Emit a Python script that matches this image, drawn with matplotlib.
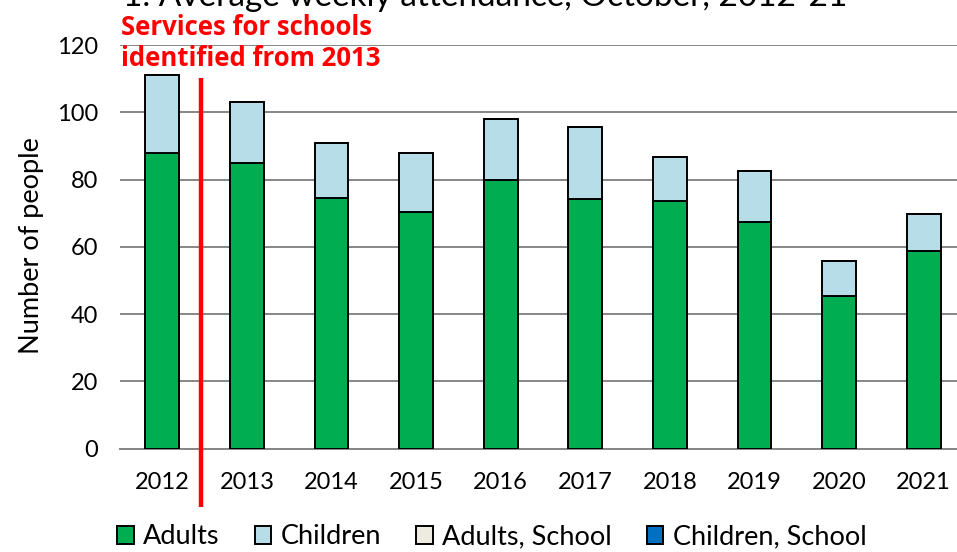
import numpy as np
import matplotlib
matplotlib.use("Agg")
from matplotlib import pyplot as plt

# values
years = ["2012", "2013", "2014", "2015", "2016", "2017", "2018", "2019", "2020", "2021"]
adults = [87.8, 84.8, 74.6, 70.4, 79.9, 74.3, 73.6, 67.5, 45.3, 58.8]
children = [23.2, 18.3, 16.3, 17.6, 18.2, 21.4, 13.2, 15.1, 10.5, 10.9]
adults_school = [0, 0, 0, 0, 0, 0, 0, 0, 0, 0]
children_school = [0, 0, 0, 0, 0, 0, 0, 0, 0, 0]

series_names = ["Adults", "Children", "Adults, School", "Children, School"]
series_colors = ["#00AD50", "#B7DDE8", "#EEECE1", "#0070C0"]

title = "1. Average weekly attendance, October, 2012-21"
note = "Services for schools\nidentified from 2013"

plt.rcParams['font.family'] = ['Lato', 'DejaVu Sans']

W, H = 957, 552
fig = plt.figure(figsize=(W / 100, H / 100), dpi=100)
# axes box in pixels: left 120, right 966 (runs off the edge), y=0 at 448.7, y=120 at 45
ax = fig.add_axes([120 / W, (H - 448.7) / H, (966 - 120) / W, (448.7 - 45) / H])

x = np.arange(len(years))
bottom = np.zeros(len(years))
for name, vals, col in zip(series_names, [adults, children, adults_school, children_school], series_colors):
    ax.bar(x, vals, 0.4, bottom=bottom, color=col, edgecolor="black", linewidth=1.4,
           label=name, zorder=3)
    bottom = bottom + np.array(vals)

ax.set_xlim(-0.5, 9.5)
ax.set_ylim(0, 120)
ax.set_yticks(np.arange(0, 121, 20))
ax.set_xticks(x)
ax.set_xticklabels(years)
ax.grid(axis="y", color="#868686", linewidth=1.4, zorder=0)
for s in ["top", "right", "left"]:
    ax.spines[s].set_visible(False)
ax.spines["bottom"].set_color("#868686")
ax.spines["bottom"].set_linewidth(1.4)
ax.tick_params(axis="y", length=0, pad=16, labelsize=17)
ax.tick_params(axis="x", length=0, pad=17, labelsize=17)

fig.text(32 / W, 1 - 246 / H, "Number of people", rotation=90, ha="center", va="center", fontsize=19.5)

# red divider: schools identified from 2013
ax.plot([0.46, 0.46], [-17.3, 110.2], color="#FF0000", linewidth=3.2, clip_on=False, zorder=4,
        solid_capstyle="butt")
ax.text(-0.485, 120.6, note, color="#FF0000", fontsize=18.5, fontweight="bold", ha="left", va="center",
        linespacing=1.15, family=["Open Sans", "DejaVu Sans"])

fig.text(485 / W, 1 - 6 / H, title, ha="center", va="baseline", fontsize=24)

leg = fig.legend(loc="center", bbox_to_anchor=(492 / W, 1 - 537 / H), ncol=4, frameon=False,
                 fontsize=19.5, handlelength=0.6, handleheight=0.6, handletextpad=0.35,
                 columnspacing=1.3)

fig.savefig("out.png", dpi=100)
